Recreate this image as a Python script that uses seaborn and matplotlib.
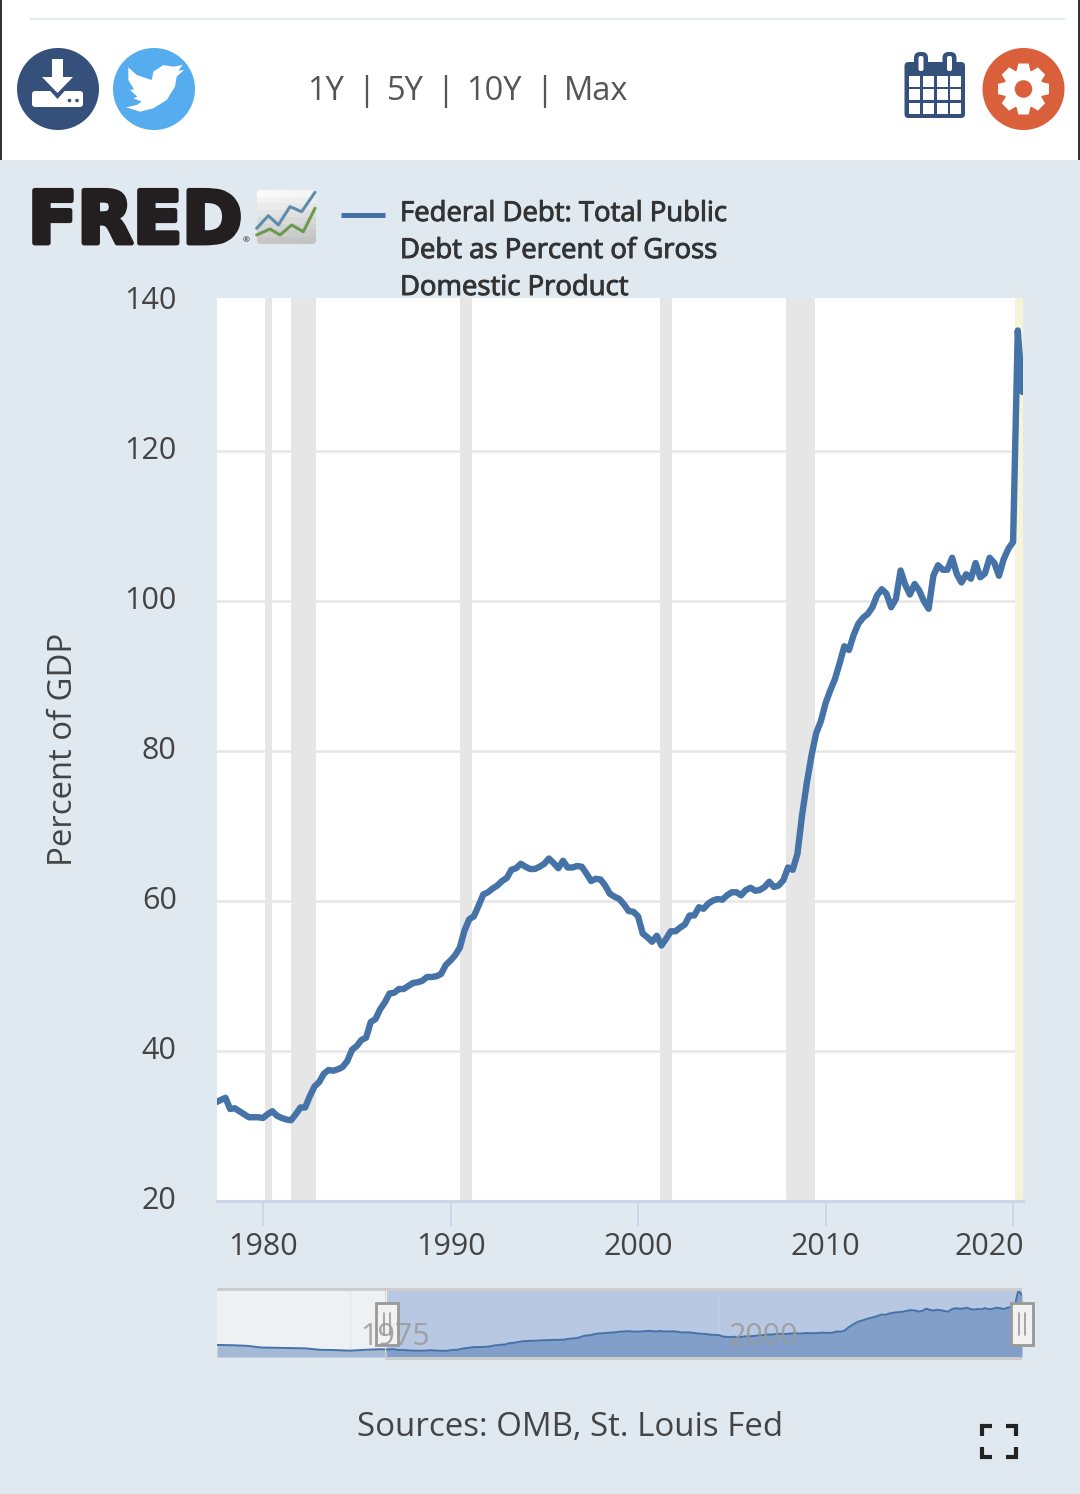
import numpy as np
import pandas as pd
import seaborn as sns
import matplotlib
matplotlib.use('Agg')
import matplotlib.pyplot as plt
import matplotlib.patheffects as pe
from matplotlib.patches import Circle, FancyBboxPatch, Polygon, Rectangle
from matplotlib.transforms import Affine2D

# quarterly values, first one is 1977 Q3
debt = [
    33.1, 33.4, 33.7, 32.2, 32.3, 31.9, 31.5, 31.1, 31.1, 31.1, 31.0, 31.5, 31.9,
    31.3, 31.0, 30.8, 30.7, 31.5, 32.4, 32.4, 33.9, 35.2, 35.8, 36.9, 37.4, 37.3,
    37.5, 37.8, 38.6, 40.1, 40.6, 41.4, 41.7, 43.8, 44.2, 45.5, 46.4, 47.6, 47.7,
    48.2, 48.2, 48.6, 49.0, 49.1, 49.3, 49.8, 49.8, 49.9, 50.2, 51.4, 52.0, 52.7,
    53.7, 56.0, 57.5, 57.9, 59.3, 60.8, 61.1, 61.6, 62.0, 62.6, 63.0,
    64.1, 64.3, 64.9, 64.5, 64.2, 64.2, 64.5, 64.9, 65.6, 65.0, 64.3, 65.3, 64.4,
    64.4, 64.6, 64.5, 63.6, 62.6, 62.9, 62.8, 62.0, 60.9, 60.5, 60.2, 59.5, 58.6,
    58.5, 57.9, 55.6, 55.1, 54.5, 55.3, 54.0, 54.9, 55.9, 55.9, 56.4, 56.8, 58.0,
    58.0, 59.1, 58.9, 59.6, 60.0, 60.2, 60.1, 60.7, 61.1, 61.1, 60.7, 61.4, 61.7,
    61.3, 61.4, 61.8, 62.5, 61.8, 62.0, 62.7, 64.4, 64.1,
    66.2, 71.4, 75.7, 79.3, 82.3, 83.9, 86.3, 88.0, 89.5, 91.6, 93.9,
    93.4, 95.4, 96.9, 97.7, 98.2, 99.1, 100.7, 101.5, 100.9, 99.1, 100.2, 104.0,
    102.1, 100.8, 102.2, 101.3, 99.9, 98.9, 103.3, 104.7, 104.1, 104.1, 105.7,
    103.5, 102.4, 103.5, 102.9, 105.0, 103.1, 103.6, 105.7, 105.0, 103.3, 105.5,
    106.9, 107.8, 136.0, 127.8,
]
# the navigator goes further back than the main plot
early_years = ['1966', '1967', '1968', '1969', '1970', '1971', '1972', '1973', '1974', '1975', '1976', '1977']
early_debt = [41.0, 40.5, 39.5, 36.5, 36.0, 35.5, 35.0, 32.5, 32.0, 31.0, 32.5, 33.5]

recessions = [('1980-02-01', '1980-07-01'), ('1981-07-01', '1982-11-01'), ('1990-07-01', '1991-03-01'),
              ('2001-03-01', '2001-11-01'), ('2007-12-01', '2009-06-01')]
shaded_2020 = ('2020-02-01', '2020-07-12')
x_years = [1980, 1990, 2000, 2010, 2020]
y_ticks = [20, 40, 60, 80, 100, 120, 140]
legend_lines = ['Federal Debt: Total Public', 'Debt as Percent of Gross', 'Domestic Product']
range_buttons = [('1Y', 307), ('5Y', 387), ('10Y', 466), ('Max', 564)]
range_bars = [366, 445, 544]

BLUE = '#4572a7'
NAVY = '#34507b'
PANEL = '#e0e8f0'
TEXT = '#444444'
W, H = 1080, 1494

sns.set_theme(style='white')
plt.rcParams['font.family'] = ['Open Sans', 'DejaVu Sans']

df = pd.DataFrame({'date': pd.date_range('1977-07-01', periods=len(debt), freq='QS'), 'debt': debt})
early = pd.DataFrame({'date': pd.to_datetime(early_years), 'debt': early_debt})
full = pd.concat([early, df], ignore_index=True)

fig = plt.figure(figsize=(W / 100, H / 100), dpi=100, facecolor='white')


def px_axes(x0, y0, x1, y1, **kw):
    return fig.add_axes([x0 / W, 1 - y1 / H, (x1 - x0) / W, (y1 - y0) / H], **kw)


# page chrome, in pixel coordinates
bg = fig.add_axes([0, 0, 1, 1], zorder=0)
bg.set_xlim(0, W)
bg.set_ylim(H, 0)
bg.axis('off')
bg.add_patch(Rectangle((0, 160), W, H - 160, color=PANEL, lw=0))
bg.add_patch(Rectangle((0, 0), 2, 160, color='#333333', lw=0))
bg.add_patch(Rectangle((1078, 0), 2, 160, color='#333333', lw=0))
bg.add_patch(Rectangle((30, 17.5), 1035, 2, color=PANEL, lw=0))

# download button
bg.add_patch(Circle((58, 89), 41, color=NAVY, lw=0))
bg.add_patch(FancyBboxPatch((32, 91), 51, 16, boxstyle='round,pad=0,rounding_size=3', color='white', lw=0))
bg.add_patch(Polygon([(36, 75), (79, 75), (57.5, 99)], color=NAVY, lw=0))
bg.add_patch(Polygon([(42, 77), (52, 77), (52, 59), (63, 59), (63, 77), (73, 77), (57.5, 93)], color='white', lw=0))
bg.add_patch(Circle((69.5, 100.5), 1.8, color=NAVY, lw=0))
bg.add_patch(Circle((77, 100.5), 1.8, color=NAVY, lw=0))

# twitter button
bg.add_patch(Circle((154, 89), 41, color='#55acee', lw=0))
bird = np.array([(385, 112), (410, 135), (455, 150), (460, 125), (490, 105), (520, 110), (548, 105), (535, 122),
                 (552, 120), (530, 140), (525, 170), (500, 210), (460, 235), (420, 245), (378, 232), (410, 225),
                 (425, 215), (400, 205), (412, 200), (390, 180), (402, 178), (385, 150)], dtype=float)
bird = bird / 3 + [0, 30]
bg.add_patch(Polygon(bird, color='white', lw=0))

# calendar button
bg.add_patch(FancyBboxPatch((904.5, 62), 60.5, 56, boxstyle='round,pad=0,rounding_size=4', color=NAVY, lw=0))
for rx in [921, 949.5]:
    bg.add_patch(FancyBboxPatch((rx - 7, 52), 14, 18, boxstyle='round,pad=0,rounding_size=6', color=NAVY, lw=0))
    bg.add_patch(FancyBboxPatch((rx - 2.5, 56), 5, 15, boxstyle='round,pad=0,rounding_size=2', color='white', lw=0))
for cx in [909, 922.5, 936.5, 950]:
    for cy in [75.7, 89, 102.7]:
        bg.add_patch(Rectangle((cx, cy), 11, 11, color='white', lw=0))

# settings button
bg.add_patch(Circle((1023.5, 89), 41, color='#d9603b', lw=0))
gear = []
for i in range(8):
    a = i * np.pi / 4 - np.pi / 2
    for da, r in [(-0.36, 19.5), (-0.2, 26), (0.2, 26), (0.36, 19.5)]:
        gear.append((1023.5 + r * np.cos(a + da), 89 + r * np.sin(a + da)))
bg.add_patch(Polygon(gear, color='white', lw=0))
bg.add_patch(Circle((1023.5, 89), 8.8, color='#d9603b', lw=0))

for label, lx in range_buttons:
    bg.text(lx, 92, label, fontsize=23.5, color='#555555', ha='left', va='center')
for bx in range_bars:
    bg.text(bx, 92, '|', fontsize=23.5, color='#555555', ha='center', va='center')

# logo
bg.text(28, 243, 'FRED', family='DejaVu Sans', weight='bold', fontsize=52, color='#231f20', ha='left',
        va='baseline', path_effects=[pe.withStroke(linewidth=3.5, foreground='#231f20')])
bg.text(246, 241, '®', fontsize=6, color='#231f20', ha='center', va='center')
box = FancyBboxPatch((257, 190), 59, 54, boxstyle='round,pad=0,rounding_size=4', color='#d3d6d7', lw=0)
bg.add_patch(box)
grad = np.linspace(1, 0, 64).reshape(8, 8)
im = bg.imshow(grad, extent=(257, 316, 244, 190), cmap='gray', vmin=-3, vmax=1, alpha=0.9, aspect='auto', zorder=1)
im.set_clip_path(box)
bg.set_xlim(0, W)
bg.set_ylim(H, 0)
blue_spark = np.array([(710, 160), (745, 122), (775, 150), (810, 95), (845, 110), (885, 52)], dtype=float) / 3 + [20, 175]
green_spark = np.array([(710, 180), (750, 162), (780, 180), (815, 150), (850, 170), (885, 100)], dtype=float) / 3 + [20, 175]
bg.plot(blue_spark[:, 0], blue_spark[:, 1], color='#5f8cab', lw=2.2, zorder=2)
bg.plot(green_spark[:, 0], green_spark[:, 1], color='#6b9a4e', lw=2.2, zorder=2)

# fullscreen corners
for cx, dx in [(982, 1), (1015.5, -1)]:
    for cy, dy in [(1425.5, 1), (1457, -1)]:
        bg.plot([cx + dx * 10, cx, cx], [cy, cy, cy + dy * 10], color='#222222', lw=3, solid_joinstyle='miter',
                solid_capstyle='butt')

bg.text(570.5, 1427, 'Sources: OMB, St. Louis Fed', fontsize=23.8, color=TEXT, ha='center', va='center')
bg.text(63, 749, 'Percent of GDP', fontsize=23.7, color=TEXT, rotation=90, ha='center', va='center')

# main plot
ax = px_axes(217, 297.5, 1023, 1200.5, zorder=2)
ax.set_facecolor('white')
for start, end in recessions:
    ax.axvspan(pd.Timestamp(start), pd.Timestamp(end), color='#e6e6e6', lw=0, zorder=1.5)
ax.axvspan(pd.Timestamp(shaded_2020[0]), pd.Timestamp(shaded_2020[1]), color='#f5f3d9', lw=0, zorder=1.5)
sns.lineplot(data=df, x='date', y='debt', ax=ax, color=BLUE, linewidth=4.6, zorder=3, errorbar=None)
ax.set_xlim(pd.Timestamp('1977-07-20'), pd.Timestamp('2020-07-12'))
ax.set_ylim(20, 140.4)
ax.set_xlabel('')
ax.set_ylabel('')
ax.set_yticks(y_ticks)
ax.set_yticklabels([str(v) for v in y_ticks])
ax.set_xticks([pd.Timestamp(f'{y}-01-01') for y in x_years])
ax.set_xticklabels([str(y) for y in x_years])
ax.grid(axis='y', color='#e6e6e6', lw=1.8, zorder=1)
ax.set_axisbelow(True)
ax.yaxis.get_gridlines()[-1].set_visible(False)
for side in ['top', 'left', 'right']:
    ax.spines[side].set_visible(False)
ax.spines['bottom'].set_color('#ccd6eb')
ax.spines['bottom'].set_linewidth(2.2)
ax.tick_params(axis='y', length=0, pad=29, labelsize=22, labelcolor=TEXT)
ax.tick_params(axis='x', length=18, width=1.4, color='#ccd6eb', pad=5, labelsize=22, labelcolor=TEXT, bottom=True)
for lab in ax.get_yticklabels():
    lab.set_transform(lab.get_transform() + Affine2D().translate(0, 3))
# highcharts pulls the last label inside the plot
last = ax.get_xticklabels()[-1]
last.set_transform(last.get_transform() + Affine2D().translate(-24, 0))

# navigator
nav = px_axes(217, 1290, 1022, 1357, zorder=2)
nav.set_facecolor('#eef1f4')
sel_start = pd.Timestamp('1977-07-01')
nav.axvspan(sel_start, pd.Timestamp('2020-07-01'), color='#b9c8e2', lw=0, zorder=0.5)
nav.axvline(pd.Timestamp('1975-01-01'), color='#e2e5e9', lw=0.8, zorder=0.6)
nav.axvline(pd.Timestamp('2000-01-01'), color='#c0cce2', lw=0.8, zorder=0.6)
before = full[full['date'] <= sel_start]
after = full[full['date'] >= sel_start]
nav.fill_between(before['date'], 20, before['debt'], color='#a3b9d5', lw=0, zorder=1)
nav.fill_between(after['date'], 20, after['debt'], color='#819fc8', lw=0, zorder=1)
sns.lineplot(data=full, x='date', y='debt', ax=nav, color=BLUE, linewidth=1.4, zorder=2, errorbar=None)
nav.set_xlim(pd.Timestamp('1966-01-01'), pd.Timestamp('2020-07-01'))
nav.set_ylim(20, 136.5)
nav.set_xlabel('')
nav.set_ylabel('')
nav.set_xticks([])
nav.set_yticks([])
for side in nav.spines:
    nav.spines[side].set_visible(False)

# top layer: legend, handles, navigator labels
top = fig.add_axes([0, 0, 1, 1], zorder=5)
top.set_xlim(0, W)
top.set_ylim(H, 0)
top.axis('off')
top.patch.set_alpha(0)
top.add_patch(Rectangle((217, 1288), 805, 2.5, color='#cccccc', lw=0))
top.add_patch(Rectangle((385, 1357), 637, 2.5, color='#cccccc', lw=0))
top.add_patch(Rectangle((384.5, 1290), 1.5, 68, color='#d4d4d4', lw=0))
top.plot([341, 385], [214.5, 214.5], color=BLUE, lw=3.6, solid_capstyle='butt')
for i, line in enumerate(legend_lines):
    top.text(400, 214 + i * 37, line, fontsize=19.8, color='#333333', ha='left', va='center',
             path_effects=[pe.withStroke(linewidth=0.7, foreground='#333333')])
top.text(360, 1337, '1975', fontsize=22, color='#999999', ha='left', va='center', alpha=0.85)
top.text(729, 1337, '2000', fontsize=22, color='#999999', ha='left', va='center', alpha=0.85)
for hx in [386.5, 1022]:
    top.add_patch(Rectangle((hx - 11, 1303), 22, 42, facecolor='#f2f2f2', edgecolor='#999999', lw=2))
    top.plot([hx - 3, hx - 3], [1313, 1335], color='#999999', lw=1.2)
    top.plot([hx + 3, hx + 3], [1313, 1335], color='#999999', lw=1.2)

fig.savefig('out.png', dpi=100)
